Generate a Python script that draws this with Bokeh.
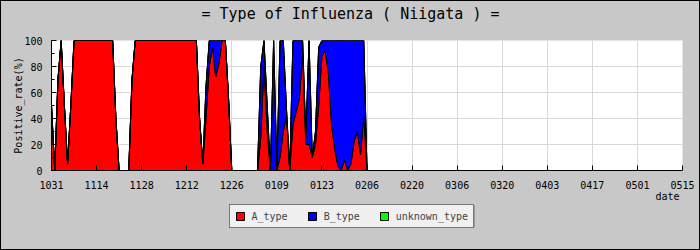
import numpy as np
from bokeh.plotting import figure
from bokeh.layouts import column
from bokeh.models import FixedTicker, Range1d, Legend, LegendItem, Label, BoxAnnotation
from bokeh.embed import file_html
from bokeh.resources import INLINE

title_text = "= Type of Influenza ( Niigata ) ="
x_title = "date"
y_title = "Positive_rate(%)"
tick_labels = ["1031", "1114", "1128", "1212", "1226", "0109", "0123", "0206",
               "0220", "0306", "0320", "0403", "0417", "0501", "0515"]
tick_step_days = 14

# daily positive rate (%) from 10/31 onward
a_type = [50, 0, 70, 100, 50, 5, 50, 100, 100, 100,
          100, 100, 100, 100, 100, 100, 100, 100, 100, 100,
          40, 0, 0, 0, 0, 70, 100, 100, 100, 100,
          100, 100, 100, 100, 100, 100, 100, 100, 100, 100,
          100, 100, 100, 100, 100, 100, 40, 5, 40, 80,
          95, 72, 82, 100, 100, 55, 0, 0, 0, 0,
          0, 0, 0, 0, 0, 25, 80, 30, 0, 0,
          0, 10, 30, 42, 0, 35, 45, 55, 90, 20,
          20, 10, 20, 50, 88, 92, 75, 35, 16, 3,
          0, 8, 0, 5, 22, 30, 12, 42, 0]
b_type = [0, 0, 0, 0, 0, 0, 0, 0, 0, 0,
          0, 0, 0, 0, 0, 0, 0, 0, 0, 0,
          0, 0, 0, 0, 0, 0, 0, 0, 0, 0,
          0, 0, 0, 0, 0, 0, 0, 0, 0, 0,
          0, 0, 0, 0, 0, 0, 0, 0, 25, 20,
          5, 28, 18, 0, 0, 0, 0, 0, 0, 0,
          0, 0, 0, 0, 0, 55, 20, 20, 0, 100,
          0, 90, 70, 5, 0, 65, 55, 45, 10, 5,
          80, 0, 10, 45, 12, 8, 25, 65, 84, 97,
          100, 92, 100, 95, 78, 70, 88, 58, 0]
unknown_type = [0, 0, 0, 0, 0, 0, 0, 0, 0, 0,
                0, 0, 0, 0, 0, 0, 0, 0, 0, 0,
                0, 0, 0, 0, 0, 0, 0, 0, 0, 0,
                0, 0, 0, 0, 0, 0, 0, 0, 0, 0,
                0, 0, 0, 0, 0, 0, 0, 0, 0, 0,
                0, 0, 0, 0, 0, 0, 0, 0, 0, 0,
                0, 0, 0, 0, 0, 0, 0, 0, 0, 0,
                0, 0, 0, 0, 0, 0, 0, 0, 0, 0,
                0, 0, 0, 0, 0, 0, 0, 0, 0, 0,
                0, 0, 0, 0, 0, 0, 0, 0, 0]
series_names = ["A_type", "B_type", "unknown_type"]
series_colors = ["#FF0000", "#0000FF", "#00FF00"]

FONT = "DejaVu Sans Mono"
BG = "#C8C8C8"
FRAME_W = 631          # plot-area width in px; the strips share it (column aligns frames)
n = len(a_type)
days = list(range(n))
x_max = tick_step_days * (len(tick_labels) - 1)


def strip(height):
    f = figure(width=698, height=height, x_range=Range1d(0, FRAME_W), y_range=Range1d(height, 0),
               output_backend="svg", toolbar_location=None,
               x_axis_type=None, y_axis_type=None,
               min_border_left=0, min_border_right=0, min_border_top=0, min_border_bottom=0,
               background_fill_color=BG, border_fill_color=BG)
    f.outline_line_color = None
    f.xgrid.visible = False
    f.ygrid.visible = False
    return f


# ---------------- title strip ----------------
t = strip(33)
t.add_layout(Label(x=299, y=12, text=title_text, text_font=FONT, text_font_size="15px",
                   text_align="center", text_baseline="middle", text_color="black"))

# ---------------- main chart ----------------
p = figure(width=698, height=157, x_range=Range1d(0, x_max), y_range=Range1d(0, 100),
           output_backend="svg", toolbar_location=None,
           min_border_left=50, min_border_right=17, min_border_top=6, min_border_bottom=21,
           background_fill_color="white", border_fill_color=BG)
p.outline_line_color = None

stack = [np.array(a_type, float), np.array(b_type, float), np.array(unknown_type, float)]
patch_xy = []
lower = np.zeros(n)
for vals, col in zip(stack, series_colors):
    upper = lower + vals
    xs = days + days[::-1]
    ys = list(upper) + list(lower[::-1])
    patch_xy.append((xs, ys))
    p.patch(xs, ys, fill_color=col, line_color="black", line_width=1)
    lower = upper

ticks = [tick_step_days * i for i in range(len(tick_labels))]
p.xaxis.ticker = FixedTicker(ticks=ticks)
p.xaxis.major_label_overrides = {tk: lab for tk, lab in zip(ticks, tick_labels)}
p.yaxis.ticker = FixedTicker(ticks=[0, 20, 40, 60, 80, 100],
                             minor_ticks=[0, 10, 20, 30, 40, 50, 60, 70, 80, 90, 100])
for ax in (p.xaxis[0], p.yaxis[0]):
    ax.axis_line_color = "black"
    ax.major_tick_line_color = "black"
    ax.minor_tick_line_color = "black"
    ax.major_tick_in = 5
    ax.major_tick_out = 0
    ax.major_label_text_font = FONT
    ax.major_label_text_font_size = "10px"
    ax.major_label_text_color = "black"
    ax.axis_label_text_font = FONT
    ax.axis_label_text_font_size = "10px"
    ax.axis_label_text_font_style = "normal"
    ax.axis_label_text_color = "black"
p.xaxis.minor_tick_in = 0
p.xaxis.minor_tick_out = 0
p.yaxis.minor_tick_in = 3
p.yaxis.minor_tick_out = 0
p.xaxis.major_label_standoff = 10
p.yaxis.major_label_standoff = 9
p.yaxis.axis_label = y_title
p.yaxis.axis_label_standoff = -3

p.xgrid.grid_line_color = "#D8D8D8"
p.ygrid.grid_line_color = "#D8D8D8"

# ---------------- strip below: axis title + legend ----------------
q = strip(58)
q.add_layout(Label(x=616, y=5, text=x_title, text_font=FONT, text_font_size="10px",
                   text_align="center", text_baseline="middle", text_color="black"))

# legend drop shadow
q.add_layout(BoxAnnotation(left=180.5, right=423.5, top=14, bottom=36,
                           fill_color="#9A9A9A", fill_alpha=1.0, line_color=None))

swatches = []
for (xs, ys), col in zip(patch_xy, series_colors):
    r = q.patch(xs, ys, fill_color=col, line_color="black", line_width=1)
    r.visible = False
    swatches.append(r)
legend = Legend(items=[LegendItem(label=nm, renderers=[r]) for nm, r in zip(series_names, swatches)],
                orientation="horizontal", location=(177.5, 21),
                glyph_width=10, glyph_height=10, label_height=12, label_width=10,
                label_standoff=7, spacing=19, padding=5, margin=0,
                label_text_font=FONT, label_text_font_size="10px",
                label_text_baseline="middle",
                background_fill_color="#F0F0F0", background_fill_alpha=1.0,
                border_line_color="black", border_line_width=1)
q.add_layout(legend, "center")

layout = column(t, p, q, spacing=0,
                styles={"border": "1px solid black", "background-color": BG})
open("out.html", "w").write(file_html(layout, INLINE))
